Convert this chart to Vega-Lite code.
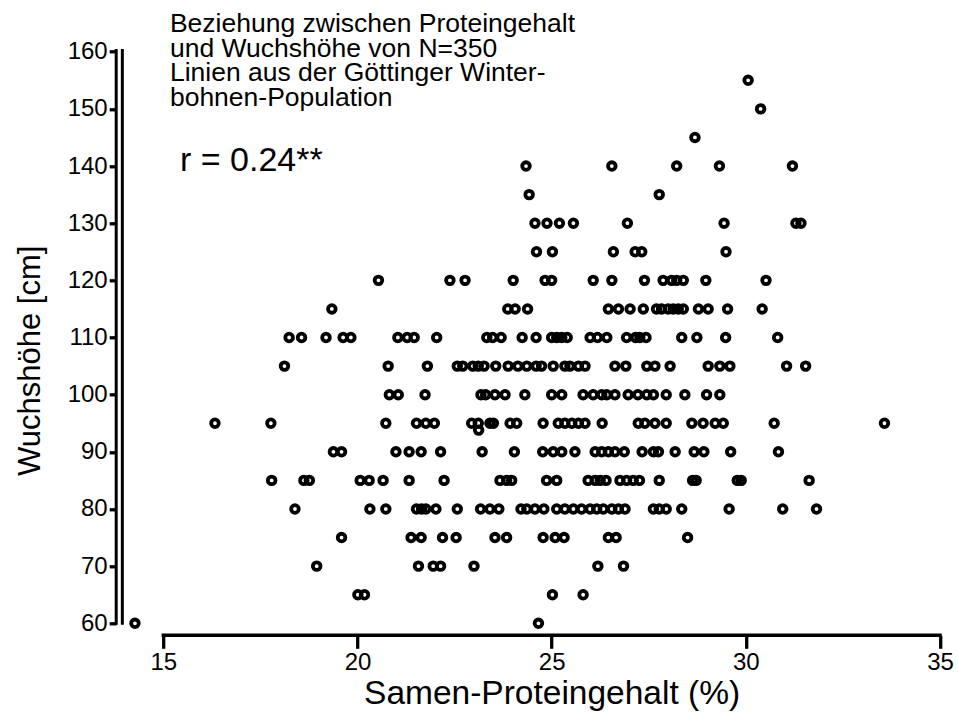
{
  "$schema": "https://vega.github.io/schema/vega-lite/v6.json",
  "autosize": "none",
  "width": 823.8,
  "height": 587,
  "padding": {"left": 116.2, "top": 48.3, "right": 18.0, "bottom": 86.7},
  "background": "white",
  "config": {
    "view": {"stroke": null},
    "font": "Liberation Sans",
    "axis": {"grid": false, "labelFont": "Liberation Sans", "titleFont": "Liberation Sans", "labelColor": "black", "titleColor": "black", "tickColor": "black", "titleFontWeight": "normal"}
  },
  "datasets": {
    "pts": [
      {"x": 30.06, "y": 155},
      {"x": 30.38, "y": 150},
      {"x": 28.69, "y": 145},
      {"x": 24.34, "y": 140}, {"x": 26.55, "y": 140}, {"x": 28.22, "y": 140}, {"x": 29.32, "y": 140}, {"x": 31.20, "y": 140},
      {"x": 24.42, "y": 135}, {"x": 27.77, "y": 135},
      {"x": 24.57, "y": 130}, {"x": 24.88, "y": 130}, {"x": 25.20, "y": 130}, {"x": 25.56, "y": 130}, {"x": 26.95, "y": 130}, {"x": 29.44, "y": 130}, {"x": 31.29, "y": 130}, {"x": 31.42, "y": 130},
      {"x": 24.61, "y": 125}, {"x": 25.02, "y": 125}, {"x": 26.59, "y": 125}, {"x": 27.15, "y": 125}, {"x": 27.32, "y": 125}, {"x": 29.49, "y": 125},
      {"x": 20.54, "y": 120}, {"x": 22.38, "y": 120}, {"x": 22.77, "y": 120}, {"x": 24.01, "y": 120}, {"x": 24.83, "y": 120}, {"x": 25.00, "y": 120}, {"x": 26.07, "y": 120}, {"x": 26.55, "y": 120}, {"x": 27.39, "y": 120}, {"x": 27.87, "y": 120}, {"x": 28.09, "y": 120}, {"x": 28.22, "y": 120}, {"x": 28.39, "y": 120}, {"x": 28.97, "y": 120}, {"x": 30.52, "y": 120},
      {"x": 19.34, "y": 115}, {"x": 23.87, "y": 115}, {"x": 24.06, "y": 115}, {"x": 24.38, "y": 115}, {"x": 26.46, "y": 115}, {"x": 26.72, "y": 115}, {"x": 27.02, "y": 115}, {"x": 27.36, "y": 115}, {"x": 27.70, "y": 115}, {"x": 27.83, "y": 115}, {"x": 28.00, "y": 115}, {"x": 28.13, "y": 115}, {"x": 28.26, "y": 115}, {"x": 28.39, "y": 115}, {"x": 28.78, "y": 115}, {"x": 29.03, "y": 115}, {"x": 29.53, "y": 115}, {"x": 30.42, "y": 115},
      {"x": 18.24, "y": 110}, {"x": 18.56, "y": 110}, {"x": 19.19, "y": 110}, {"x": 19.63, "y": 110}, {"x": 19.83, "y": 110}, {"x": 21.04, "y": 110}, {"x": 21.28, "y": 110}, {"x": 21.46, "y": 110}, {"x": 22.04, "y": 110}, {"x": 23.33, "y": 110}, {"x": 23.48, "y": 110}, {"x": 23.70, "y": 110}, {"x": 24.24, "y": 110}, {"x": 24.60, "y": 110}, {"x": 25.00, "y": 110}, {"x": 25.13, "y": 110}, {"x": 25.26, "y": 110}, {"x": 25.40, "y": 110}, {"x": 25.99, "y": 110}, {"x": 26.18, "y": 110}, {"x": 26.42, "y": 110}, {"x": 26.93, "y": 110}, {"x": 27.16, "y": 110}, {"x": 27.27, "y": 110}, {"x": 27.43, "y": 110}, {"x": 28.35, "y": 110}, {"x": 28.74, "y": 110}, {"x": 29.48, "y": 110}, {"x": 30.82, "y": 110},
      {"x": 18.12, "y": 105}, {"x": 20.79, "y": 105}, {"x": 21.80, "y": 105}, {"x": 22.57, "y": 105}, {"x": 22.71, "y": 105}, {"x": 22.97, "y": 105}, {"x": 23.11, "y": 105}, {"x": 23.26, "y": 105}, {"x": 23.56, "y": 105}, {"x": 23.88, "y": 105}, {"x": 24.13, "y": 105}, {"x": 24.36, "y": 105}, {"x": 24.60, "y": 105}, {"x": 24.74, "y": 105}, {"x": 25.04, "y": 105}, {"x": 25.34, "y": 105}, {"x": 25.47, "y": 105}, {"x": 25.69, "y": 105}, {"x": 25.86, "y": 105}, {"x": 26.63, "y": 105}, {"x": 26.91, "y": 105}, {"x": 27.45, "y": 105}, {"x": 27.66, "y": 105}, {"x": 28.05, "y": 105}, {"x": 29.03, "y": 105}, {"x": 29.33, "y": 105}, {"x": 29.59, "y": 105}, {"x": 31.05, "y": 105}, {"x": 31.54, "y": 105},
      {"x": 20.82, "y": 100}, {"x": 21.05, "y": 100}, {"x": 21.74, "y": 100}, {"x": 23.18, "y": 100}, {"x": 23.30, "y": 100}, {"x": 23.54, "y": 100}, {"x": 23.80, "y": 100}, {"x": 24.31, "y": 100}, {"x": 25.00, "y": 100}, {"x": 25.26, "y": 100}, {"x": 25.81, "y": 100}, {"x": 26.07, "y": 100}, {"x": 26.29, "y": 100}, {"x": 26.42, "y": 100}, {"x": 26.63, "y": 100}, {"x": 26.97, "y": 100}, {"x": 27.22, "y": 100}, {"x": 27.45, "y": 100}, {"x": 27.62, "y": 100}, {"x": 27.95, "y": 100}, {"x": 28.43, "y": 100}, {"x": 28.99, "y": 100}, {"x": 29.33, "y": 100},
      {"x": 16.33, "y": 95}, {"x": 17.77, "y": 95}, {"x": 20.73, "y": 95}, {"x": 21.52, "y": 95}, {"x": 21.76, "y": 95}, {"x": 21.98, "y": 95}, {"x": 22.94, "y": 95}, {"x": 23.11, "y": 95}, {"x": 23.41, "y": 95}, {"x": 23.50, "y": 95}, {"x": 23.93, "y": 95}, {"x": 24.10, "y": 95}, {"x": 24.78, "y": 95}, {"x": 25.17, "y": 95}, {"x": 25.34, "y": 95}, {"x": 25.52, "y": 95}, {"x": 25.69, "y": 95}, {"x": 25.86, "y": 95}, {"x": 26.30, "y": 95}, {"x": 27.23, "y": 95}, {"x": 27.40, "y": 95}, {"x": 27.66, "y": 95}, {"x": 27.95, "y": 95}, {"x": 28.61, "y": 95}, {"x": 28.90, "y": 95}, {"x": 29.21, "y": 95}, {"x": 29.42, "y": 95}, {"x": 30.73, "y": 95}, {"x": 33.57, "y": 95},
      {"x": 23.12, "y": 93.8},
      {"x": 19.38, "y": 90}, {"x": 19.59, "y": 90}, {"x": 20.99, "y": 90}, {"x": 21.33, "y": 90}, {"x": 21.64, "y": 90}, {"x": 22.14, "y": 90}, {"x": 23.21, "y": 90}, {"x": 24.04, "y": 90}, {"x": 24.77, "y": 90}, {"x": 25.04, "y": 90}, {"x": 25.26, "y": 90}, {"x": 25.60, "y": 90}, {"x": 26.12, "y": 90}, {"x": 26.29, "y": 90}, {"x": 26.46, "y": 90}, {"x": 26.63, "y": 90}, {"x": 26.87, "y": 90}, {"x": 27.33, "y": 90}, {"x": 27.62, "y": 90}, {"x": 27.75, "y": 90}, {"x": 28.18, "y": 90}, {"x": 28.67, "y": 90}, {"x": 28.92, "y": 90}, {"x": 29.61, "y": 90}, {"x": 30.84, "y": 90},
      {"x": 17.79, "y": 85}, {"x": 18.62, "y": 85}, {"x": 18.76, "y": 85}, {"x": 20.07, "y": 85}, {"x": 20.30, "y": 85}, {"x": 20.66, "y": 85}, {"x": 21.33, "y": 85}, {"x": 22.23, "y": 85}, {"x": 23.67, "y": 85}, {"x": 23.84, "y": 85}, {"x": 23.97, "y": 85}, {"x": 24.87, "y": 85}, {"x": 25.13, "y": 85}, {"x": 25.94, "y": 85}, {"x": 26.12, "y": 85}, {"x": 26.25, "y": 85}, {"x": 26.40, "y": 85}, {"x": 26.76, "y": 85}, {"x": 26.93, "y": 85}, {"x": 27.10, "y": 85}, {"x": 27.26, "y": 85}, {"x": 27.77, "y": 85}, {"x": 28.63, "y": 85}, {"x": 28.72, "y": 85}, {"x": 29.78, "y": 85}, {"x": 29.88, "y": 85}, {"x": 31.63, "y": 85},
      {"x": 18.39, "y": 80}, {"x": 20.32, "y": 80}, {"x": 20.73, "y": 80}, {"x": 21.52, "y": 80}, {"x": 21.65, "y": 80}, {"x": 21.76, "y": 80}, {"x": 22.02, "y": 80}, {"x": 22.57, "y": 80}, {"x": 23.17, "y": 80}, {"x": 23.41, "y": 80}, {"x": 23.64, "y": 80}, {"x": 24.21, "y": 80}, {"x": 24.36, "y": 80}, {"x": 24.57, "y": 80}, {"x": 24.80, "y": 80}, {"x": 25.13, "y": 80}, {"x": 25.34, "y": 80}, {"x": 25.56, "y": 80}, {"x": 25.77, "y": 80}, {"x": 25.99, "y": 80}, {"x": 26.16, "y": 80}, {"x": 26.33, "y": 80}, {"x": 26.55, "y": 80}, {"x": 26.72, "y": 80}, {"x": 26.89, "y": 80}, {"x": 27.62, "y": 80}, {"x": 27.77, "y": 80}, {"x": 27.95, "y": 80}, {"x": 28.35, "y": 80}, {"x": 29.57, "y": 80}, {"x": 30.95, "y": 80}, {"x": 31.82, "y": 80},
      {"x": 19.59, "y": 75}, {"x": 21.38, "y": 75}, {"x": 21.64, "y": 75}, {"x": 22.19, "y": 75}, {"x": 22.54, "y": 75}, {"x": 23.54, "y": 75}, {"x": 23.84, "y": 75}, {"x": 24.78, "y": 75}, {"x": 25.09, "y": 75}, {"x": 25.32, "y": 75}, {"x": 26.46, "y": 75}, {"x": 26.66, "y": 75}, {"x": 28.50, "y": 75},
      {"x": 18.95, "y": 70}, {"x": 21.57, "y": 70}, {"x": 21.95, "y": 70}, {"x": 22.14, "y": 70}, {"x": 23.00, "y": 70}, {"x": 26.19, "y": 70}, {"x": 26.85, "y": 70},
      {"x": 20.01, "y": 65}, {"x": 20.18, "y": 65}, {"x": 25.02, "y": 65}, {"x": 25.81, "y": 65},
      {"x": 14.27, "y": 60}, {"x": 24.66, "y": 60}
    ]
  },
  "layer": [
    {
      "data": {"name": "pts"},
      "mark": {"type": "point", "shape": "circle", "filled": false, "stroke": "black", "strokeWidth": 3.8, "size": 58, "opacity": 1},
      "encoding": {
        "x": {
          "field": "x", "type": "quantitative",
          "scale": {"domain": [13.787, 35], "nice": false, "zero": false},
          "axis": {
            "title": "Samen-Proteingehalt (%)", "titleFontSize": 33.5, "titleX": 435.4, "titlePadding": 3,
            "values": [15, 20, 25, 30, 35], "domain": false, "tickSize": 13, "tickWidth": 3.3,
            "labelFontSize": 24, "labelPadding": 2, "labelFlush": false, "labelOverlap": false
          }
        },
        "y": {
          "field": "y", "type": "quantitative",
          "scale": {"domain": [57.9, 160.6], "nice": false, "zero": false},
          "axis": {
            "title": "Wuchshöhe [cm]", "titleFontSize": 31, "titlePadding": 21, "titleY": 312,
            "values": [60, 70, 80, 90, 100, 110, 120, 130, 140, 150, 160], "domain": false, "tickSize": 7, "tickWidth": 3.3,
            "labelFontSize": 24, "labelPadding": 2, "labelFlush": false, "labelOverlap": false
          }
        }
      }
    },
    {
      "data": {"values": [{"pos": 13.787}, {"pos": 13.945}]},
      "mark": {"type": "rule", "stroke": "black", "strokeWidth": 3, "strokeCap": "square"},
      "encoding": {
        "x": {
          "field": "pos", "type": "quantitative",
          "scale": {"domain": [13.787, 35], "nice": false, "zero": false},
          "axis": {
            "title": "Samen-Proteingehalt (%)", "titleFontSize": 33.5, "titleX": 435.4, "titlePadding": 3,
            "values": [15, 20, 25, 30, 35], "domain": false, "tickSize": 13, "tickWidth": 3.3,
            "labelFontSize": 24, "labelPadding": 2, "labelFlush": false, "labelOverlap": false
          }
        },
        "y": {
          "datum": 60, "type": "quantitative",
          "scale": {"domain": [57.9, 160.6], "nice": false, "zero": false},
          "axis": {
            "title": "Wuchshöhe [cm]", "titleFontSize": 31, "titlePadding": 21, "titleY": 312,
            "values": [60, 70, 80, 90, 100, 110, 120, 130, 140, 150, 160], "domain": false, "tickSize": 7, "tickWidth": 3.3,
            "labelFontSize": 24, "labelPadding": 2, "labelFlush": false, "labelOverlap": false
          }
        },
        "y2": {"datum": 160.2}
      }
    },
    {
      "data": {"values": [{}]},
      "mark": {"type": "rule", "stroke": "black", "strokeWidth": 3.5, "strokeCap": "square"},
      "encoding": {
        "x": {
          "datum": 15, "type": "quantitative",
          "scale": {"domain": [13.787, 35], "nice": false, "zero": false},
          "axis": {
            "title": "Samen-Proteingehalt (%)", "titleFontSize": 33.5, "titleX": 435.4, "titlePadding": 3,
            "values": [15, 20, 25, 30, 35], "domain": false, "tickSize": 13, "tickWidth": 3.3,
            "labelFontSize": 24, "labelPadding": 2, "labelFlush": false, "labelOverlap": false
          }
        },
        "x2": {"datum": 35},
        "y": {
          "datum": 57.9, "type": "quantitative",
          "scale": {"domain": [57.9, 160.6], "nice": false, "zero": false},
          "axis": {
            "title": "Wuchshöhe [cm]", "titleFontSize": 31, "titlePadding": 21, "titleY": 312,
            "values": [60, 70, 80, 90, 100, 110, 120, 130, 140, 150, 160], "domain": false, "tickSize": 7, "tickWidth": 3.3,
            "labelFontSize": 24, "labelPadding": 2, "labelFlush": false, "labelOverlap": false
          }
        }
      }
    },
    {
      "data": {"values": [{"label": ["Beziehung zwischen Proteingehalt", "und Wuchshöhe von N=350", "Linien aus der Göttinger Winter-", "bohnen-Population"]}]},
      "mark": {"type": "text", "align": "left", "baseline": "alphabetic", "fontSize": 26.5, "lineHeight": 24.5, "font": "Liberation Sans", "color": "black"},
      "encoding": {
        "x": {"datum": 15.17, "type": "quantitative"},
        "y": {"datum": 163.41, "type": "quantitative"},
        "text": {"field": "label"}
      }
    },
    {
      "data": {"values": [{"label": "r = 0.24**"}]},
      "mark": {"type": "text", "align": "left", "baseline": "alphabetic", "fontSize": 34, "font": "Liberation Sans", "color": "black"},
      "encoding": {
        "x": {"datum": 15.43, "type": "quantitative"},
        "y": {"datum": 139.18, "type": "quantitative"},
        "text": {"field": "label"}
      }
    }
  ]
}
